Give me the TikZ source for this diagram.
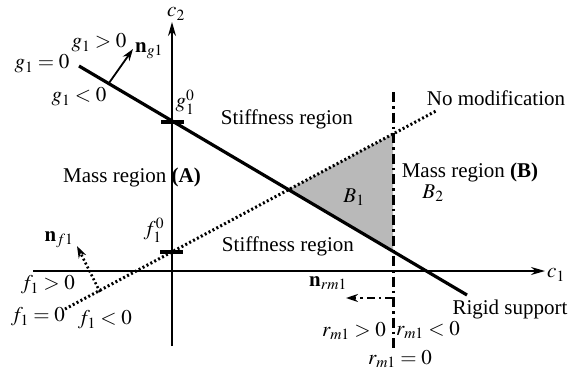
\documentclass[tikz,border=0pt]{standalone}
\usepackage{mathptmx}
\usepackage{fontspec}
\setmainfont{Liberation Serif}
\usetikzlibrary{arrows.meta}
\begin{document}
\begin{tikzpicture}[x=1pt,y=-1pt,
  lbl/.style={inner sep=0pt,font=\fontsize{21}{25}\selectfont},
  axis/.style={line width=1.6pt,-{Stealth[length=14pt,width=8pt]}},
  solidln/.style={line width=3.2pt},
  dotln/.style={line width=3pt,dash pattern=on 2pt off 2.4pt},
  dashdot/.style={line width=3pt,dash pattern=on 10pt off 4pt on 2.5pt off 4pt},
  tick/.style={line width=3.2pt},
  tip/.style={-{Stealth[length=12pt,width=8pt]}}]
\useasboundingbox (0,0) rectangle (568,372);
% shaded region
\coordinate (apex) at (288,190);
\coordinate (tr) at (393,134);
\coordinate (br) at (393,252);
\fill[gray!55] (apex) -- (tr) -- (br) -- cycle;
% axes
\coordinate (c1s) at (33,271);
\coordinate (c1e) at (545,271);
\coordinate (c2s) at (172,346);
\coordinate (c2e) at (172,22);
\draw[axis] (c1s) -- (c1e);
\draw[axis] (c2s) -- (c2e);
\node[lbl] (c1) at (556,275) {$c_1$};
\node[lbl] (c2) at (176,14) {$c_2$};
% g1 line
\coordinate (gs) at (79,66);
\coordinate (ge) at (467,295);
\draw[solidln] (gs) -- (ge);
% f1 line
\coordinate (fs) at (65,309);
\coordinate (fe) at (436,111);
\draw[dotln] (fs) -- (fe);
% r line
\coordinate (rs) at (393,92);
\coordinate (re) at (393,350);
\draw[dashdot] (rs) -- (re);
% ticks
\coordinate (gt1) at (161,122);
\coordinate (gt2) at (184,122);
\draw[tick] (gt1) -- (gt2);
\coordinate (ft1) at (160,252);
\coordinate (ft2) at (183,252);
\draw[tick] (ft1) -- (ft2);
% normals
\coordinate (ng0) at (109,83);
\coordinate (ng1) at (133,49);
\draw[line width=1.8pt,tip] (ng0) -- (ng1);
\coordinate (nf0) at (100,292);
\coordinate (nf1) at (77,246);
\draw[line width=2.6pt,dash pattern=on 2pt off 2.4pt,tip] (nf0) -- (nf1);
\coordinate (nr0) at (393,298);
\coordinate (nr1) at (346,298);
\draw[line width=2.8pt,dash pattern=on 8pt off 4pt on 2.5pt off 4pt,tip] (nr0) -- (nr1);
% labels
\node[lbl] (g0) at (42,64) {$g_1=0$};
\node[lbl] (gpos) at (99,43) {$g_1>0$};
\node[lbl] (ngl) at (149,51) {$\mathbf{n}_{g1}$};
\node[lbl] (gneg) at (79,97) {$g_1<0$};
\node[lbl] (g10) at (185,102) {$g_1^0$};
\node[lbl] (stiff1) at (287,119) {Stiffness region};
\node[lbl] (nomod) at (496,98) {No modification};
\node[lbl] (massA) at (132,177) {Mass region \textbf{(A)}};
\node[lbl] (B1) at (354,197) {$B_1$};
\node[lbl] (massB) at (470,172) {Mass region \textbf{(B)}};
\node[lbl] (B2) at (433,193) {$B_2$};
\node[lbl] (f10) at (154,230) {$f_1^0$};
\node[lbl] (stiff2) at (288,246) {Stiffness region};
\node[lbl] (nfl) at (59,240) {$\mathbf{n}_{f1}$};
\node[lbl] (fpos) at (48,285) {$f_1>0$};
\node[lbl] (f0) at (38,317) {$f_1=0$};
\node[lbl] (fneg) at (105,320) {$f_1<0$};
\node[lbl] (nrl) at (328,283) {$\mathbf{n}_{rm1}$};
\node[lbl] (rigid) at (510,309) {Rigid support};
\node[lbl] (rpos) at (354,331) {$r_{m1}>0$};
\node[lbl] (rneg) at (428,330) {$r_{m1}<0$};
\node[lbl] (r0) at (400,359) {$r_{m1}=0$};
\end{tikzpicture}
\end{document}
